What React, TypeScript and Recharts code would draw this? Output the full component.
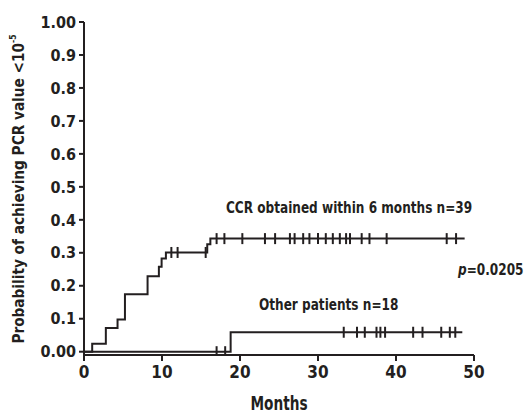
import React from "react";
import {
  ComposedChart,
  Line,
  Scatter,
  XAxis,
  YAxis,
} from "recharts";

// step curves (months, probability)
const ccrMonths = [0, 1.05, 2.8, 4.3, 5.25, 8.15, 9.6, 9.95, 10.5, 15.8, 16.2, 48.8];
const ccrProb = [0, 0.024, 0.072, 0.098, 0.174, 0.229, 0.258, 0.283, 0.301, 0.326, 0.343, 0.343];

const otherMonths = [0, 18.8, 48.5];
const otherProb = [0, 0.059, 0.059];

// censored marks
const ccrCensorLow = [11.2, 12.0, 15.6];
const ccrCensorHigh = [
  17.0, 18.0, 20.3, 23.2, 24.5, 26.4, 27.0, 28.1, 28.9, 30.0, 31.0, 31.9,
  32.8, 33.6, 34.1, 35.6, 36.6, 38.8, 46.5, 47.7,
];
const otherCensorZero = [17.0, 18.1];
const otherCensorTop = [33.3, 35.0, 36.0, 37.5, 38.0, 38.6, 42.2, 43.4, 45.8, 46.9, 47.6];

const xTicks = [0, 10, 20, 30, 40, 50];
const yTicks = [0, 0.1, 0.2, 0.3, 0.4, 0.5, 0.6, 0.7, 0.8, 0.9, 1];

const ink = "#231f20";
const font = '"DejaVu Sans Condensed", "Liberation Sans Narrow", sans-serif';

const ccrData = ccrMonths.map((m, i) => ({ x: m, y: ccrProb[i] }));
const otherData = otherMonths.map((m, i) => ({ x: m, y: otherProb[i] }));
const censorData = [
  ...ccrCensorLow.map((m) => ({ x: m, y: ccrProb[8] })),
  ...ccrCensorHigh.map((m) => ({ x: m, y: ccrProb[10] })),
  ...otherCensorZero.map((m) => ({ x: m, y: 0 })),
  ...otherCensorTop.map((m) => ({ x: m, y: otherProb[1] })),
];

const CensorMark = (props: any) => {
  const { cx, cy } = props;
  if (cx == null || cy == null) return null;
  return <line x1={cx} x2={cx} y1={cy - 5.5} y2={cy + 5.5} stroke={ink} strokeWidth={2} />;
};

const yFmt = (v: number) => (v === 0 ? "0.00" : v === 1 ? "1.00" : v.toFixed(1));

const textStyle: React.CSSProperties = {
  position: "absolute",
  fontFamily: font,
  fontWeight: "bold",
  color: ink,
  whiteSpace: "nowrap",
  lineHeight: 1,
  fontSize: 16,
  transformOrigin: "left center",
  transform: "scaleX(0.84)",
};

export default function App() {
  return (
    <div style={{ position: "absolute", left: 0, top: 0, width: 526, height: 414, background: "#fff", overflow: "hidden" }}>
      <ComposedChart
        width={526}
        height={414}
        margin={{ top: 22, right: 52, bottom: 0, left: 0 }}
      >
        <XAxis
          type="number"
          dataKey="x"
          domain={[0, 50]}
          ticks={xTicks}
          height={59}
          tickSize={6}
          tickMargin={5}
          stroke={ink}
          strokeWidth={2}
          tick={{ fill: ink, fontSize: 17, fontWeight: "bold", fontFamily: font }}
        />
        <YAxis
          type="number"
          dataKey="y"
          domain={[-0.01, 1]}
          ticks={yTicks}
          allowDataOverflow
          width={84}
          tickSize={5}
          tickMargin={3}
          stroke={ink}
          strokeWidth={2}
          tickFormatter={yFmt}
          tick={{ fill: ink, fontSize: 16, fontWeight: "bold", fontFamily: font }}
        />
        <Line
          data={ccrData}
          dataKey="y"
          type="stepAfter"
          stroke={ink}
          strokeWidth={2}
          dot={false}
          isAnimationActive={false}
        />
        <Line
          data={otherData}
          dataKey="y"
          type="stepAfter"
          stroke={ink}
          strokeWidth={2}
          dot={false}
          isAnimationActive={false}
        />
        <Scatter data={censorData} dataKey="y" shape={CensorMark} isAnimationActive={false} />
      </ComposedChart>

      <div style={{ ...textStyle, left: 226, top: 200 }}>CCR obtained within 6 months n=39</div>
      <div style={{ ...textStyle, left: 259, top: 297 }}>Other patients n=18</div>
      <div style={{ ...textStyle, left: 458, top: 262 }}>
        <i>p</i>=0.0205
      </div>
      <div
        style={{
          ...textStyle,
          fontSize: 19,
          width: 120,
          textAlign: "center",
          left: 279 - 60,
          top: 394,
          transformOrigin: "center",
          transform: "scaleX(0.8)",
        }}
      >
        Months
      </div>
      <div
        style={{
          ...textStyle,
          width: 400,
          textAlign: "center",
          left: 19 - 200,
          top: 189 - 8,
          transform: "rotate(-90deg) scaleX(0.95)",
          transformOrigin: "center",
        }}
      >
        Probability of achieving PCR value &lt;10
        <sup style={{ fontSize: 9, verticalAlign: "top", position: "relative", top: -2 }}>-5</sup>
      </div>
    </div>
  );
}
